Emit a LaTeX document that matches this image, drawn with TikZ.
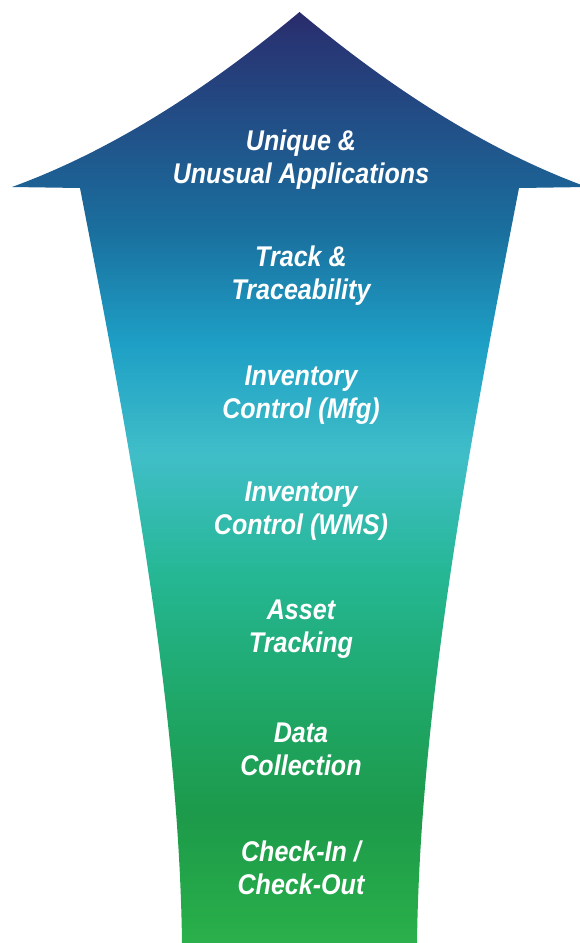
\documentclass[tikz,border=0pt]{standalone}
\usepackage{fontspec}
\setmainfont{Liberation Sans}[FakeStretch=0.88]
\definecolor{c0}{HTML}{2A2B6A}
\definecolor{c1}{HTML}{283473}
\definecolor{c2}{HTML}{1A6F9E}
\definecolor{c3}{HTML}{1EA0C6}
\definecolor{c4}{HTML}{40BEC8}
\definecolor{c5}{HTML}{25B794}
\definecolor{c6}{HTML}{1FA86A}
\definecolor{c7}{HTML}{1D9A4A}
\definecolor{c8}{HTML}{27AC4A}
\definecolor{c9}{HTML}{2BB04C}
\pgfdeclareverticalshading{arrowshade}{100bp}{%
  color(0bp)=(c9); color(25bp)=(c9); color(26.24bp)=(c8); color(31.87bp)=(c7);
  color(38.32bp)=(c6); color(44.76bp)=(c5); color(51.21bp)=(c4); color(57.12bp)=(c3);
  color(63.29bp)=(c2); color(73.76bp)=(c1); color(75bp)=(c0); color(100bp)=(c0)}
\tikzset{
  lbl/.style={text=white, align=center, font=\fontsize{28.5}{33}\selectfont\bfseries\itshape, inner sep=0pt}
}
\begin{document}
\begin{tikzpicture}[x=1pt,y=-1pt]
\useasboundingbox (0,0) rectangle (580,943);
\begin{scope}
\clip (299.5,12) .. controls (204,92) and (108,152) .. (12,187)
  -- (80,188) .. controls (125,420) and (179,700) .. (182,943)
  -- (417,943) .. controls (420,700) and (474,420) .. (519,188)
  -- (587,187) .. controls (491,152) and (395,92) .. (299.5,12) -- cycle;
\shade[shading=arrowshade] (0,12) rectangle (600,943);
\end{scope}
\node[lbl] (t1) at (301,160) {Unique \&\\Unusual Applications};
\node[lbl] (t2) at (301,276) {Track \&\\Traceability};
\node[lbl] (t3) at (301,395) {Inventory\\Control (Mfg)};
\node[lbl] (t4) at (301,511) {Inventory\\Control (WMS)};
\node[lbl] (t5) at (301,629) {Asset\\Tracking};
\node[lbl] (t6) at (301,749) {Data\\Collection};
\node[lbl] (t7) at (301,868) {Check-In /\\Check-Out};
\end{tikzpicture}
\end{document}
